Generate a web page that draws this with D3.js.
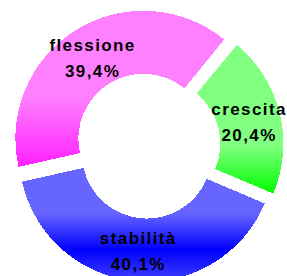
<!DOCTYPE html>
<html><head><meta charset="utf-8">
<script src="https://cdn.jsdelivr.net/npm/d3@7"></script>
<style>html,body{margin:0;padding:0;background:#fff;overflow:hidden}</style>
</head><body>
<svg id="c" width="287" height="276"></svg>
<script>
const categories = ["crescita", "stabilità", "flessione"];
const values = [20.4, 40.1, 39.4];
const labels = ["20,4%", "40,1%", "39,4%"];

const cx = 147.6, cy = 145.6, R = 128, r = 65, explode = 8;
const startDeg = 39.5;

const svg = d3.select("#c");
const defs = svg.append("defs");
const gradStops = [
  [[0, "#80FF80"], [0.68, "#80FF80"], [1, "#00FF00"]],
  [[0, "#6666FF"], [0.4, "#6666FF"], [0.72, "#0000FF"], [1, "#4040FF"]],
  [[0, "#FF80FF"], [0.55, "#FF80FF"], [1, "#FF20FF"]]
];
gradStops.forEach((st, i) => {
  const g = defs.append("linearGradient").attr("id", "g" + i)
    .attr("x1", 0).attr("y1", 0).attr("x2", 0).attr("y2", 1);
  st.forEach(s => g.append("stop").attr("offset", s[0]).attr("stop-color", s[1]));
});

const total = d3.sum(values);
const pie = d3.pie().sort(null).value(d => d)
  .startAngle(startDeg * Math.PI / 180)
  .endAngle(startDeg * Math.PI / 180 + 2 * Math.PI * total / 100);
const arcs = pie(values);
const arc = d3.arc().innerRadius(r).outerRadius(R);

const root = svg.append("g").attr("transform", `translate(${cx},${cy})`);
const slice = root.selectAll("g.s").data(arcs).join("g").attr("class", "s")
  .attr("transform", d => {
    const a = (d.startAngle + d.endAngle) / 2;
    return `translate(${explode * Math.sin(a)},${-explode * Math.cos(a)})`;
  });
slice.append("path").attr("d", arc).attr("fill", (d, i) => `url(#g${i})`)
  .attr("shape-rendering", "crispEdges");

slice.each(function(d, i) {
  const [x, y] = arc.centroid(d);
  const t = d3.select(this).append("text")
    .attr("text-anchor", "middle")
    .attr("font-family", "'Liberation Sans', Arial, sans-serif")
    .attr("font-weight", "bold").attr("font-size", 17)
    .attr("letter-spacing", 1.4).attr("fill", "#000");
  t.append("tspan").attr("x", x).attr("y", y - 6).text(categories[i]);
  t.append("tspan").attr("x", x).attr("y", y + 20).text(labels[i]);
});
</script>
</body></html>
